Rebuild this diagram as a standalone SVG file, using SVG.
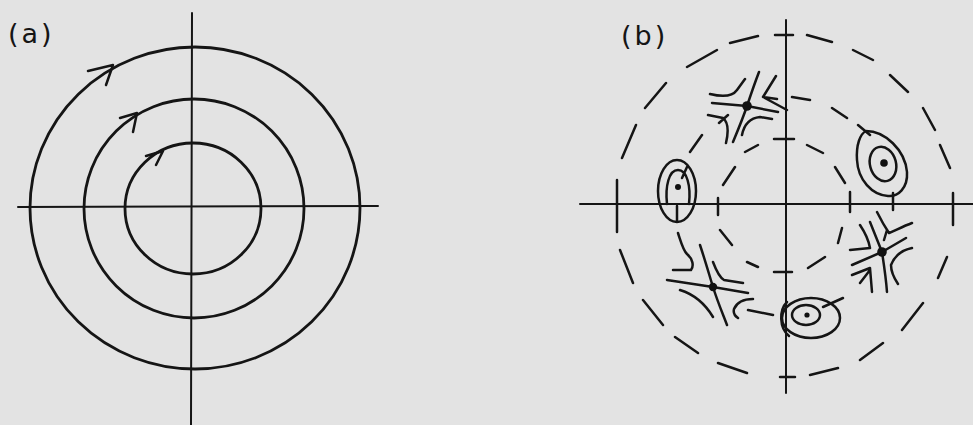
<svg xmlns="http://www.w3.org/2000/svg" width="973" height="425" viewBox="0 0 973 425">
<style>
.bg{fill:#e3e3e3}
.ln{fill:none;stroke:#151515;stroke-width:2.5;stroke-linecap:round;stroke-linejoin:round}
.thin{fill:none;stroke:#151515;stroke-width:2;stroke-linecap:round}
.orb{fill:none;stroke:#151515;stroke-width:2.8}
.dot{fill:#111}
.lbl{font-family:"DejaVu Sans","Liberation Sans",sans-serif;fill:#151515}
</style>
<rect class="bg" x="0" y="0" width="973" height="425"/>

<!-- (a) -->
<g id="panel-a">
  <text class="lbl" x="8" y="43" font-size="27" letter-spacing="3">(a)</text>
  <g id="a-axes">
    <line class="thin" x1="192" y1="13" x2="191" y2="425"/>
    <line class="thin" x1="18" y1="207" x2="378" y2="206"/>
  </g>
  <g id="a-orbit-outer">
    <ellipse class="orb" cx="195" cy="208" rx="165" ry="161"/>
    <path class="ln" d="M88,71 L113,65 L106,85"/>
  </g>
  <g id="a-orbit-middle">
    <ellipse class="orb" cx="194" cy="208.5" rx="110" ry="109.5"/>
    <path class="ln" d="M120,118 L137,113 L133,132"/>
  </g>
  <g id="a-orbit-inner">
    <ellipse class="orb" cx="193" cy="208.5" rx="68" ry="65.5"/>
    <path class="ln" d="M146,156 L163,151 L156,165"/>
  </g>
</g>

<!-- (b) -->
<g id="panel-b">
  <text class="lbl" x="621" y="45" font-size="27" letter-spacing="3">(b)</text>
  <g id="b-axes">
    <line class="thin" x1="786" y1="20" x2="786" y2="393"/>
    <line class="thin" x1="580" y1="204" x2="973" y2="204"/>
    <path class="ln" d="M775,35 L793,35 M774,139 L794,139 M774,272 L792,272 M780,377 L795,377 M718,198 L718,215 M850,192 L850,212 M893,193 L893,210"/>
  </g>
  <g id="b-dashed-outer">
    <path class="ln" d="M730,43 L758,36 M687,67 L717,50 M645,108 L666,83 M622,158 L636,125 M617,180 L617,232 M620,250 L633,283 M643,300 L663,325 M675,337 L698,353 M718,363 L747,373 M807,35 L832,42 M853,50 L873,60 M890,75 L908,92 M923,108 L935,130 M940,145 L950,168 M953,193 L953,225 M947,257 L938,278 M923,303 L902,330 M883,343 L860,360 M838,368 L810,375"/>
  </g>
  <g id="b-dashed-middle">
    <path class="ln" d="M792,97 L810,100 M832,108 L847,118 M858,125 L870,135 M690,152 L702,135"/>
  </g>
  <g id="b-dashed-inner">
    <path class="ln" d="M807,145 L823,153 M835,167 L845,183 M842,228 L838,243 M825,257 L808,268 M758,267 L747,262 M732,245 L720,230 M723,185 L735,167 M745,152 L758,145"/>
  </g>

  <g id="saddle-top">
    <path class="ln" d="M712,103 L747,106 L778,112 M759,72 C754,85 750,97 747,106 C743,118 738,130 733,142 M710,94 C722,97 732,97 737,90 L745,79 M776,76 L763,97 L787,110 M763,97 L777,99 M708,115 L723,118 C728,122 729,130 726,143 M719,123 L728,115 M742,135 C744,125 750,118 760,117 L772,119"/>
    <circle class="dot" cx="747" cy="106" r="4.8"/>
  </g>
  <g id="center-left">
    <ellipse class="ln" cx="677" cy="191" rx="19" ry="31"/>
    <path class="ln" d="M667,204 C665,186 669,170 678,170 C687,170 691,186 689,204 M687,167 L682,178 M677,206 L677,221"/>
    <circle class="dot" cx="678" cy="187" r="3"/>
  </g>
  <g id="center-right">
    <path class="ln" d="M866,131 C885,131 905,150 907,172 C908,188 898,197 888,196 C872,195 858,180 857,160 C856,145 860,134 866,131 Z"/>
    <ellipse class="ln" cx="883" cy="164" rx="13" ry="17.5" transform="rotate(-15 883 164)"/>
    <circle class="dot" cx="884" cy="163" r="3.8"/>
  </g>
  <g id="saddle-right">
    <path class="ln" d="M870,222 L882,252 C884,265 886,278 887,292 M852,265 L882,252 L906,238 M860,225 C866,234 869,242 870,248 L850,250 M877,212 C881,220 885,227 889,233 C896,230 904,226 912,223 M887,230 L884,240 M852,275 L870,268 L872,292 M860,283 L870,270 M912,248 C902,250 895,255 891,265 C891,272 894,278 898,284"/>
    <circle class="dot" cx="882" cy="252" r="4.8"/>
  </g>
  <g id="saddle-bottom">
    <path class="ln" d="M667,280 L713,287 L748,293 M700,245 C705,260 709,274 713,287 C717,300 722,312 727,325 M678,233 C681,242 683,250 687,254 C693,259 694,266 691,270 L673,270 M713,262 C716,270 719,277 724,280 L743,283 M680,290 C693,294 704,302 713,317 M753,299 C744,299 737,302 734,309 C733,313 735,316 738,318 M748,310 L773,315"/>
    <circle class="dot" cx="713" cy="287" r="4.2"/>
  </g>
  <g id="center-bottom">
    <ellipse class="ln" cx="811" cy="318" rx="29" ry="20"/>
    <path class="ln" d="M787,302 C779,310 779,328 789,336 M823,307 L843,298"/>
    <ellipse class="ln" cx="806" cy="315" rx="14" ry="10"/>
    <circle class="dot" cx="807" cy="315" r="2.6"/>
  </g>
</g>
</svg>
